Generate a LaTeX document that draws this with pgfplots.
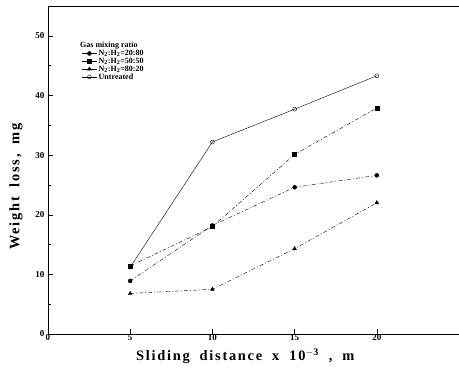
\documentclass[border=0pt]{standalone}
\usepackage{fontspec}
\setmainfont{Liberation Serif}
\usepackage{pgfplots}
\pgfplotsset{compat=1.18}
\begin{document}
\begin{tikzpicture}
\begin{axis}[
  scale only axis, width=411pt, height=328pt,
  xmin=0, xmax=25, ymin=0, ymax=55,
  axis lines=left, axis line style={-, thin, black},
  xtick={0,5,10,15,20}, ytick={0,10,20,30,40,50},
  minor ytick={5,15,25,35,45},
  tick align=inside, tick style={black, thin},
  major tick length=5pt, minor tick length=3pt,
  /pgf/number format/assume math mode=true,
  ticklabel style={font=\bfseries\small},
  xticklabel style={yshift=3pt},
  xlabel={\addfontfeature{LetterSpace=12}Sliding\hspace{10pt}distance\hspace{10pt}x\hspace{10pt}10$^{\mathbf{-3}}$\hspace{10pt},\hspace{10pt}m},
  ylabel={\addfontfeature{LetterSpace=12}Weight\hspace{10pt}loss,\hspace{10pt}mg},
  xlabel style={font=\Large\bfseries, at={(axis description cs:0.48,0)}, anchor=north, yshift=-11pt},
  ylabel style={font=\Large\bfseries, at={(axis description cs:0,0.45)}, anchor=south, yshift=22pt},
  legend style={draw=none, fill=none, at={(rel axis cs:0.08,0.90)}, anchor=north west,
    font=\bfseries\footnotesize, row sep=-3pt, inner sep=1pt},
  legend cell align=left,
  legend image code/.code={\draw[#1, solid, thin] (0cm,0cm) -- (0.5cm,0cm); \draw[#1,only marks] plot coordinates {(0.25cm,0cm)};},
  clip=false,
]
\draw[thin] (rel axis cs:0,1) -- (rel axis cs:1,1);
\addlegendimage{empty legend}
\addlegendentry{\hspace{-0.65cm}Gas\ mixing\ ratio\rule[-13pt]{0pt}{13pt}}
\addplot[black, thin, dash pattern=on 4pt off 2pt on 1pt off 2pt, mark=*, mark size=2pt, mark options={solid}] coordinates {(5,8.9) (10,18.2) (15,24.6) (20,26.6)};
\addlegendentry{N$_\mathbf{2}$:H$_\mathbf{2}$=20:80}
\addplot[black, thin, dash pattern=on 4pt off 2pt on 1pt off 2pt, mark=square*, mark size=2pt, mark options={solid}] coordinates {(5,11.4) (10,18.0) (15,30.1) (20,37.9)};
\addlegendentry{N$_\mathbf{2}$:H$_\mathbf{2}$=50:50}
\addplot[black, thin, dash pattern=on 4pt off 2pt on 1pt off 2pt, mark=triangle*, mark size=2.2pt, mark options={solid}] coordinates {(5,6.8) (10,7.5) (15,14.3) (20,22.0)};
\addlegendentry{N$_\mathbf{2}$:H$_\mathbf{2}$=80:20}
\addplot[black, thin, mark=o, mark size=2pt, mark options={solid}] coordinates {(5,11.2) (10,32.2) (15,37.7) (20,43.3)};
\addlegendentry{Untreated}
\end{axis}
\pgfresetboundingbox
\path (-48pt,-36pt) rectangle (411pt,334pt);
\end{tikzpicture}
\end{document}
